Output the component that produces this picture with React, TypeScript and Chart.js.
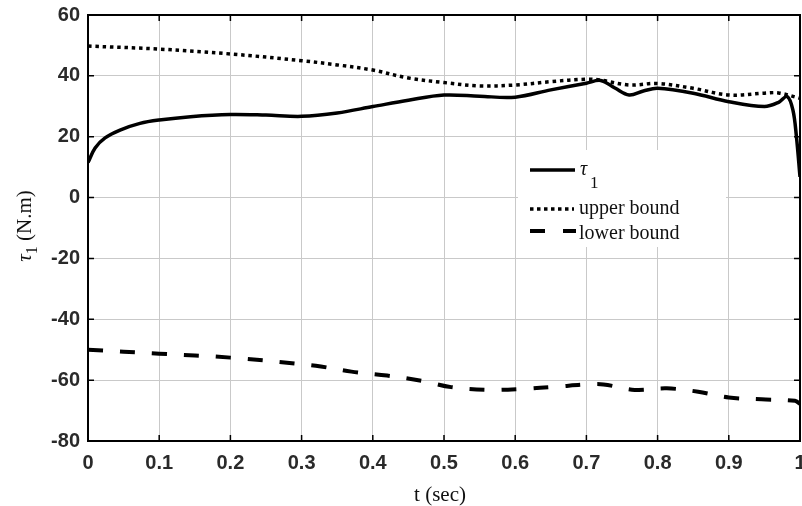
import React, { useEffect, useRef } from "react";
import { Chart, registerables } from "chart.js";

Chart.register(...registerables);

const tauTime = [0, 0.01, 0.024, 0.045, 0.073, 0.1, 0.144, 0.2, 0.25, 0.3, 0.35, 0.4, 0.45, 0.5, 0.55, 0.6, 0.65, 0.7, 0.72, 0.74, 0.76, 0.78, 0.8, 0.85, 0.9, 0.95, 0.97, 0.982, 0.99, 0.995, 1];
const tauValues = [11.5, 16.3, 19.6, 22.2, 24.4, 25.5, 26.6, 27.3, 27.1, 26.7, 27.8, 29.9, 32, 33.7, 33.3, 33, 35.4, 37.6, 38.5, 36, 33.7, 35, 35.9, 34.3, 31.5, 29.9, 31.3, 33.2, 28.8, 20, 6.8];

const upperTime = [0, 0.1, 0.2, 0.3, 0.35, 0.4, 0.45, 0.5, 0.55, 0.6, 0.65, 0.7, 0.72, 0.76, 0.8, 0.85, 0.9, 0.95, 0.97, 1];
const upperValues = [49.8, 48.8, 47.2, 45, 43.6, 41.9, 39.3, 37.8, 36.7, 37, 38.1, 38.9, 38.6, 37, 37.5, 35.9, 33.7, 34.3, 34.4, 32.6];

const lowerTime = [0, 0.1, 0.2, 0.32, 0.37, 0.42, 0.47, 0.51, 0.56, 0.61, 0.66, 0.7, 0.724, 0.768, 0.813, 0.857, 0.9, 0.946, 0.993, 1];
const lowerValues = [-50, -51.3, -52.6, -55.3, -57.2, -58.5, -60.3, -62.3, -63.2, -62.9, -62.1, -61.4, -61.4, -63.2, -62.7, -63.8, -65.7, -66.3, -66.8, -67.8];

const xTicks = [0, 0.1, 0.2, 0.3, 0.4, 0.5, 0.6, 0.7, 0.8, 0.9, 1];
const yTicks = [-80, -60, -40, -20, 0, 20, 40, 60];

const legendLabels = ["τ", "upper bound", "lower bound"];
const xTitle = "t (sec)";
const yTitleMain = "τ";
const yTitleRest = " (N.m)";

const toPoints = (t: number[], v: number[]) => t.map((x, i) => ({ x, y: v[i] }));

const decorPlugin = {
  id: "decor",
  afterDraw(chart: any) {
    const { ctx, chartArea } = chart;
    const { left, right, top, bottom } = chartArea;
    const xs = chart.scales.x;
    const ys = chart.scales.y;
    ctx.save();

    // legend box
    const bx0 = 518, bx1 = 726, by0 = 150, by1 = 247;
    ctx.fillStyle = "#ffffff";
    ctx.fillRect(bx0, by0, bx1 - bx0, by1 - by0);

    // legend samples
    ctx.strokeStyle = "#000";
    ctx.lineCap = "butt";
    ctx.lineWidth = 3.5;
    ctx.setLineDash([]);
    ctx.beginPath();
    ctx.moveTo(530, 170);
    ctx.lineTo(575, 170);
    ctx.stroke();
    ctx.setLineDash([3.5, 3.5]);
    ctx.beginPath();
    ctx.moveTo(530, 209);
    ctx.lineTo(574, 209);
    ctx.stroke();
    ctx.lineWidth = 4;
    ctx.setLineDash([15, 18]);
    ctx.beginPath();
    ctx.moveTo(530, 231);
    ctx.lineTo(576, 231);
    ctx.stroke();
    ctx.setLineDash([]);

    ctx.fillStyle = "#111";
    ctx.textBaseline = "alphabetic";
    ctx.textAlign = "left";
    ctx.font = "italic 20px 'Liberation Serif'";
    ctx.fillText(legendLabels[0], 580, 175);
    ctx.font = "17px 'Liberation Serif'";
    ctx.fillText("1", 590, 188);
    ctx.font = "20px 'Liberation Serif'";
    ctx.fillText(legendLabels[1], 579, 214);
    ctx.fillText(legendLabels[2], 579, 239);

    // frame
    ctx.strokeStyle = "#000";
    ctx.lineWidth = 2;
    ctx.strokeRect(left, top, right - left, bottom - top);

    // inward ticks
    ctx.lineWidth = 1.5;
    ctx.beginPath();
    xTicks.forEach((t) => {
      const px = xs.getPixelForValue(t);
      ctx.moveTo(px, bottom);
      ctx.lineTo(px, bottom - 6);
      ctx.moveTo(px, top);
      ctx.lineTo(px, top + 6);
    });
    yTicks.forEach((v) => {
      const py = ys.getPixelForValue(v);
      ctx.moveTo(left, py);
      ctx.lineTo(left + 6, py);
      ctx.moveTo(right, py);
      ctx.lineTo(right - 6, py);
    });
    ctx.stroke();

    // axis titles
    ctx.fillStyle = "#111";
    ctx.font = "21px 'Liberation Serif'";
    ctx.textAlign = "center";
    ctx.textBaseline = "middle";
    ctx.fillText(xTitle, (left + right) / 2 - 4, 495);

    ctx.translate(25, 226);
    ctx.rotate(-Math.PI / 2);
    ctx.textAlign = "left";
    ctx.textBaseline = "middle";
    const fMain = "italic 21px 'Liberation Serif'";
    const fSub = "16px 'Liberation Serif'";
    const fRest = "21px 'Liberation Serif'";
    ctx.font = fMain;
    const w1 = ctx.measureText(yTitleMain).width;
    ctx.font = fSub;
    const w2 = ctx.measureText("1").width;
    ctx.font = fRest;
    const w3 = ctx.measureText(yTitleRest).width;
    let cx = -(w1 + w2 + w3) / 2;
    ctx.font = fMain;
    ctx.fillText(yTitleMain, cx, 0);
    cx += w1;
    ctx.font = fSub;
    ctx.fillText("1", cx, 8);
    cx += w2;
    ctx.font = fRest;
    ctx.fillText(yTitleRest, cx, 0);

    ctx.restore();
  },
};

export default function App() {
  const ref = useRef<HTMLCanvasElement>(null);

  useEffect(() => {
    if (!ref.current) return;
    const chart = new Chart(ref.current, {
      type: "line",
      data: {
        datasets: [
          {
            label: "τ1",
            data: toPoints(tauTime, tauValues),
            borderColor: "#000",
            borderWidth: 3.5,
            pointRadius: 0,
            tension: 0.35,
            fill: false,
          },
          {
            label: "upper bound",
            data: toPoints(upperTime, upperValues),
            borderColor: "#000",
            borderWidth: 3.5,
            borderDash: [3.5, 3.8],
            pointRadius: 0,
            tension: 0.35,
            fill: false,
          },
          {
            label: "lower bound",
            data: toPoints(lowerTime, lowerValues),
            borderColor: "#000",
            borderWidth: 4,
            borderDash: [15, 17],
            pointRadius: 0,
            tension: 0.35,
            fill: false,
          },
        ],
      },
      options: {
        responsive: false,
        animation: false,
        layout: { padding: { top: 15, right: 2, left: 0, bottom: 0 } },
        plugins: {
          legend: { display: false },
          tooltip: { enabled: false },
        },
        scales: {
          x: {
            type: "linear",
            min: 0,
            max: 1,
            afterBuildTicks: (scale: any) => {
              scale.ticks = xTicks.map((v) => ({ value: v }));
            },
            afterFit: (scale: any) => {
              scale.height = 65;
              scale.paddingLeft = 0;
              scale.paddingRight = 0;
              scale.paddingTop = 0;
              scale.paddingBottom = 0;
            },
            grid: { color: "#c9c9c9", lineWidth: 1, drawTicks: false },
            border: { display: false },
            ticks: {
              padding: 10,
              color: "#2a2a2a",
              font: { family: "'Liberation Sans'", size: 20, weight: "bold" },
              maxRotation: 0,
              autoSkip: false,
              callback: (v: any) => String(Number(Number(v).toFixed(1))),
            },
          },
          y: {
            type: "linear",
            min: -80,
            max: 60,
            afterBuildTicks: (scale: any) => {
              scale.ticks = yTicks.map((v) => ({ value: v }));
            },
            afterFit: (scale: any) => {
              scale.width = 88;
              scale.paddingLeft = 0;
              scale.paddingRight = 0;
              scale.paddingTop = 0;
              scale.paddingBottom = 0;
            },
            grid: { color: "#c9c9c9", lineWidth: 1, drawTicks: false },
            border: { display: false },
            ticks: {
              padding: 8,
              color: "#2a2a2a",
              font: { family: "'Liberation Sans'", size: 20, weight: "bold" },
              autoSkip: false,
            },
          },
        },
      },
      plugins: [decorPlugin],
    });
    return () => chart.destroy();
  }, []);

  return (
    <div style={{ position: "absolute", left: 0, top: 0, width: 802, height: 506, background: "#fff" }}>
      <canvas ref={ref} width={802} height={506} />
    </div>
  );
}
